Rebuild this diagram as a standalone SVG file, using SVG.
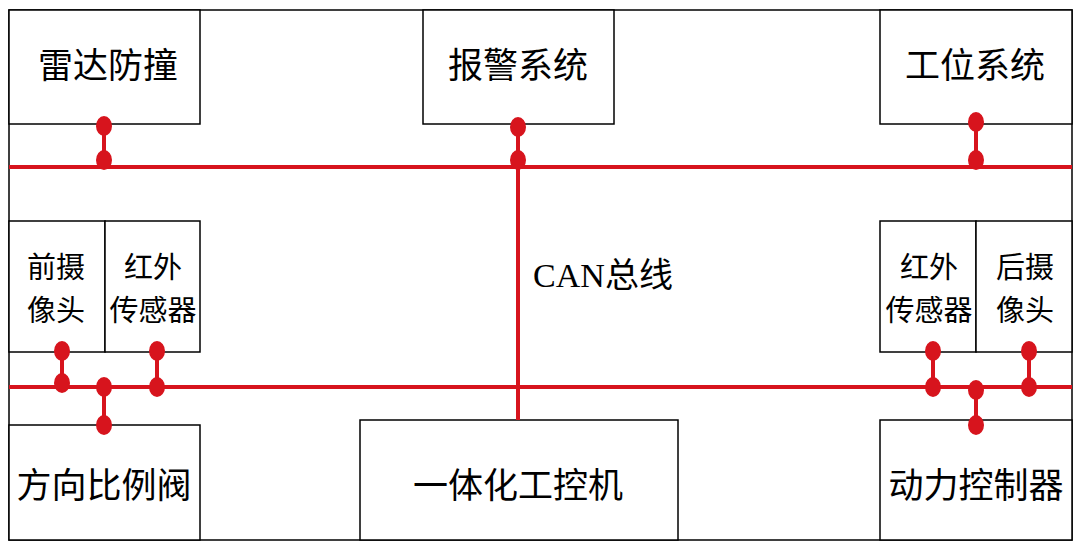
<svg xmlns="http://www.w3.org/2000/svg" width="1080" height="547" viewBox="0 0 1080 547">
<style>
.b{fill:#fff;stroke:#000;stroke-width:1.5}
.t{font-family:"Liberation Serif","Noto Sans CJK SC",serif;font-size:35px;fill:#000;text-anchor:middle}
.s{font-size:29px}
.l{stroke:#d7141d;stroke-width:4;fill:none}
.d{fill:#d7141d}
</style>
<rect x="9" y="10" width="1063" height="530" fill="#fff" stroke="#000" stroke-width="1.5"/>
<g id="n1"><rect class="b" x="9" y="10" width="191" height="114"/><text class="t" x="108" y="78">雷达防撞</text></g>
<g id="n2"><rect class="b" x="423" y="10" width="191" height="114"/><text class="t" x="518" y="78">报警系统</text></g>
<g id="n3"><rect class="b" x="880" y="10" width="192" height="114"/><text class="t" x="975" y="78">工位系统</text></g>
<g id="n4"><rect class="b" x="9" y="221" width="96" height="131"/><text class="t s" x="56" y="278">前摄</text><text class="t s" x="56" y="321">像头</text></g>
<g id="n5"><rect class="b" x="105" y="221" width="95" height="131"/><text class="t s" x="153" y="278">红外</text><text class="t s" x="153" y="321">传感器</text></g>
<g id="n6"><rect class="b" x="880" y="221" width="96" height="131"/><text class="t s" x="929" y="278">红外</text><text class="t s" x="929" y="321">传感器</text></g>
<g id="n7"><rect class="b" x="976" y="221" width="96" height="131"/><text class="t s" x="1025" y="278">后摄</text><text class="t s" x="1025" y="321">像头</text></g>
<g id="n8"><rect class="b" x="9" y="425" width="191" height="115"/><text class="t" x="104" y="498">方向比例阀</text></g>
<g id="n9"><rect class="b" x="360" y="420" width="318" height="120"/><text class="t" x="518" y="498">一体化工控机</text></g>
<g id="n10"><rect class="b" x="880" y="420" width="192" height="120"/><text class="t" x="976" y="498">动力控制器</text></g>
<text class="t" x="603" y="287" style="font-size:34px">CAN总线</text>
<g id="connectors">
<path class="l" d="M9 167H1072M518 167V420M9 387H1072M104 126V160M518 127V160M976 122V160M62 351V383M157 351V387M104 387V425M933 351V387M1029 351V387M976 390V425"/>
<g class="d">
<ellipse cx="104" cy="126" rx="8" ry="10"/><ellipse cx="104" cy="160" rx="8" ry="10"/>
<ellipse cx="518" cy="127" rx="8" ry="10"/><ellipse cx="518" cy="160" rx="8" ry="10"/>
<ellipse cx="976" cy="122" rx="8" ry="10"/><ellipse cx="976" cy="160" rx="8" ry="10"/>
<ellipse cx="62" cy="351" rx="8" ry="10"/><ellipse cx="62" cy="383" rx="8" ry="10"/>
<ellipse cx="157" cy="351" rx="8" ry="10"/><ellipse cx="157" cy="387" rx="8" ry="10"/>
<ellipse cx="104" cy="387" rx="8" ry="10"/><ellipse cx="104" cy="425" rx="8" ry="10"/>
<ellipse cx="933" cy="351" rx="8" ry="10"/><ellipse cx="933" cy="387" rx="8" ry="10"/>
<ellipse cx="1029" cy="351" rx="8" ry="10"/><ellipse cx="1029" cy="387" rx="8" ry="10"/>
<ellipse cx="976" cy="390" rx="8" ry="10"/><ellipse cx="976" cy="425" rx="8" ry="10"/>
</g>
</g>
</svg>
